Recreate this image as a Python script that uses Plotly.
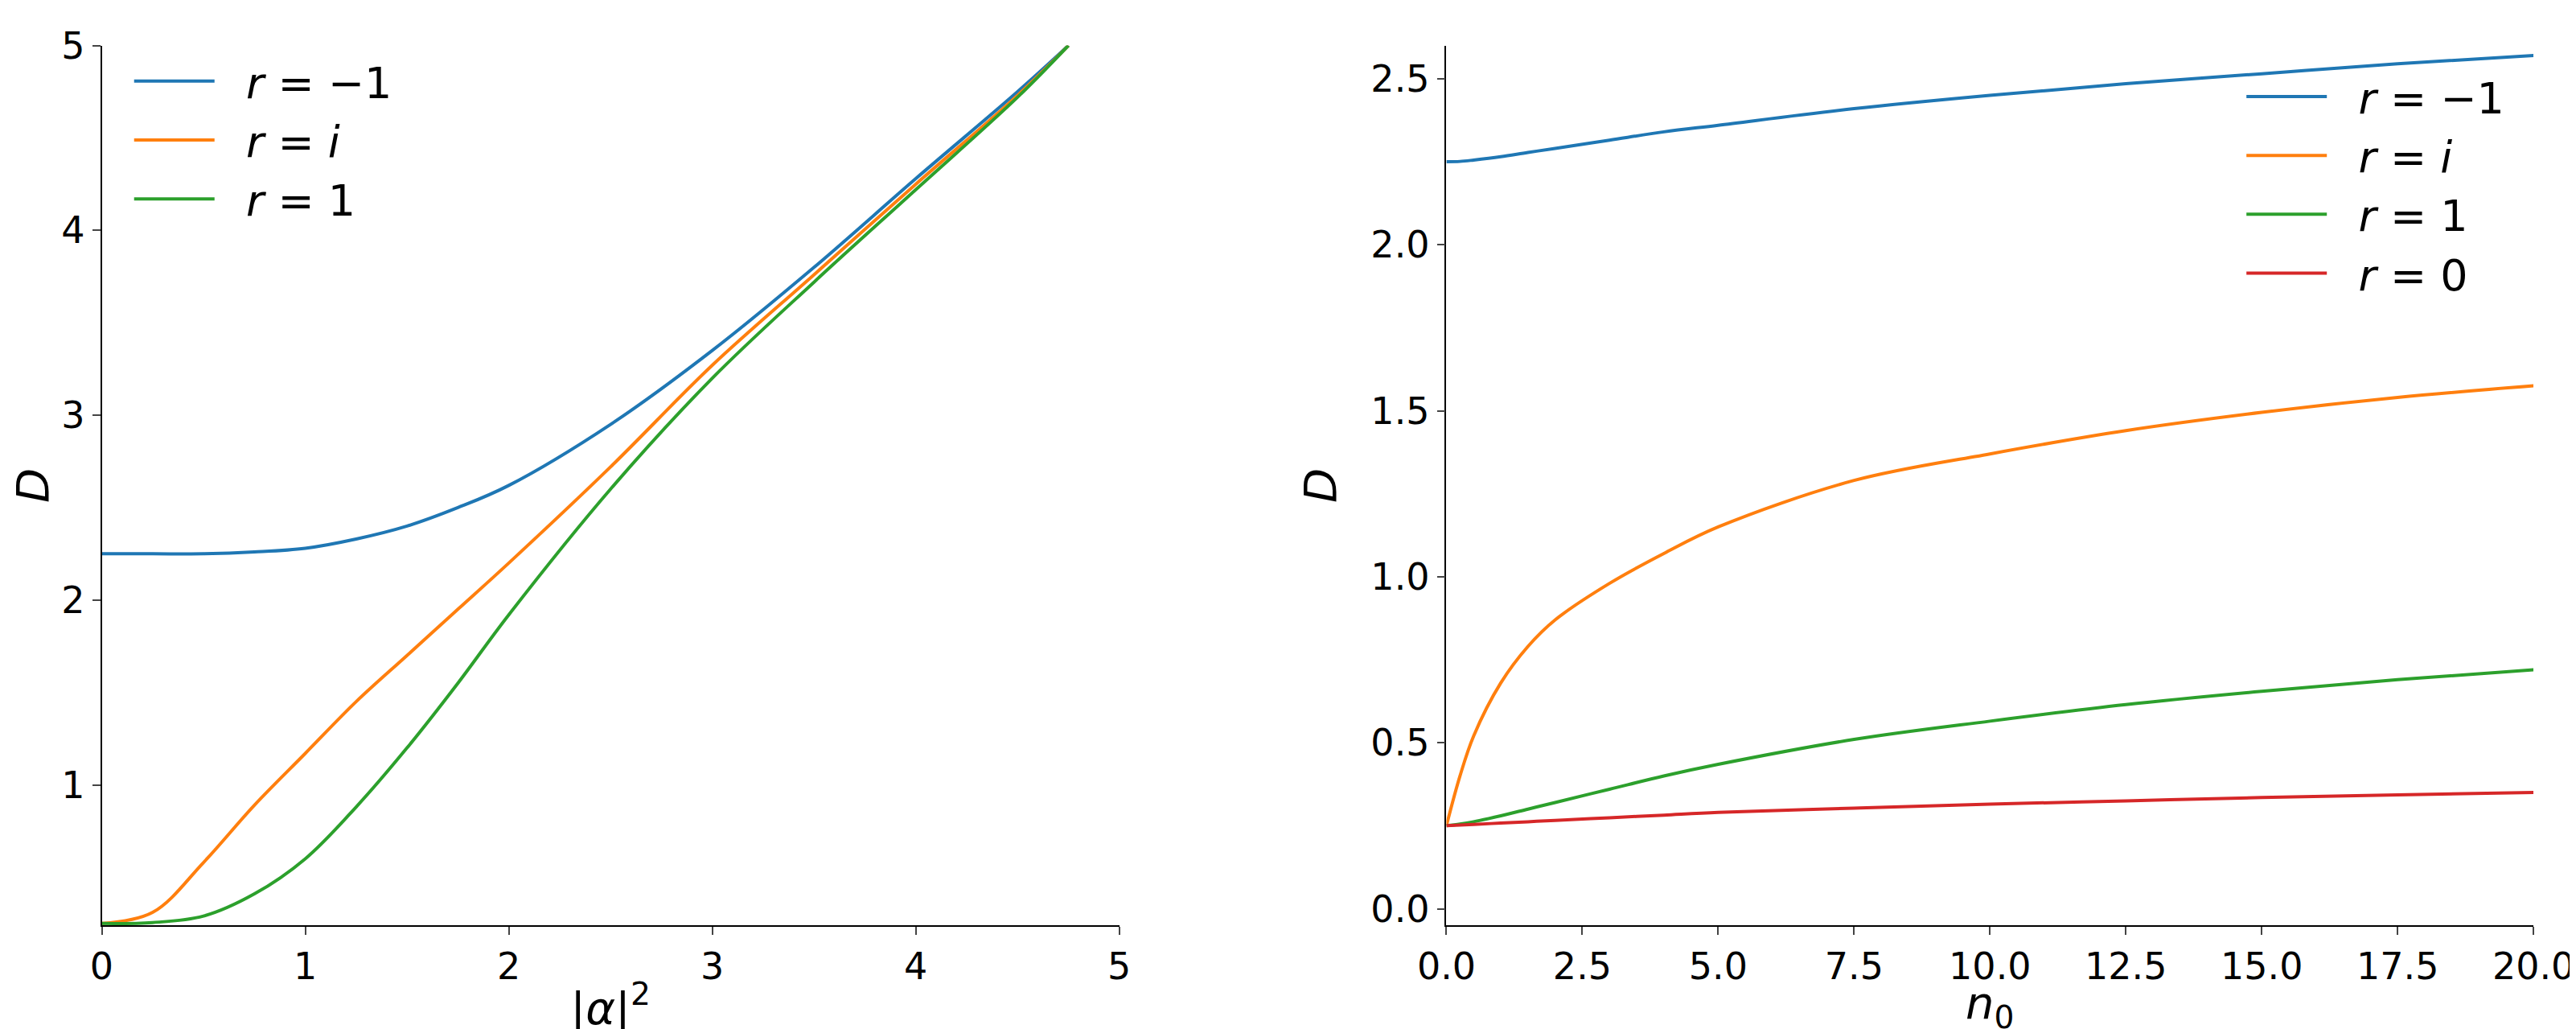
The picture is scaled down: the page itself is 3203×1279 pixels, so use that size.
import plotly.graph_objects as go

# Left panel: D vs |alpha|^2
a_x = [0, 0.25, 0.5, 0.75, 1, 1.25, 1.5, 1.75, 2, 2.5, 3, 3.5, 4, 4.5, 4.75]
a_blue = [2.25, 2.25, 2.25, 2.26, 2.28, 2.33, 2.40, 2.50, 2.62, 2.95, 3.35, 3.80, 4.28, 4.75, 5.0]
a_orange = [0.25, 0.31, 0.58, 0.89, 1.17, 1.45, 1.70, 1.95, 2.20, 2.72, 3.27, 3.76, 4.25, 4.73, 5.0]
a_green = [0.25, 0.255, 0.29, 0.41, 0.60, 0.88, 1.20, 1.55, 1.92, 2.60, 3.20, 3.72, 4.22, 4.72, 5.0]

# Right panel: D vs n0
n_x = [0, 0.25, 0.5, 1, 1.5, 2, 3, 4, 5, 7.5, 10, 12.5, 15, 17.5, 20]
n_blue = [2.25, 2.251, 2.255, 2.265, 2.278, 2.29, 2.315, 2.34, 2.36, 2.41, 2.45, 2.485, 2.515, 2.545, 2.57]
n_orange = [0.25, 0.40, 0.52, 0.68, 0.79, 0.87, 0.98, 1.07, 1.15, 1.29, 1.37, 1.44, 1.495, 1.54, 1.575]
n_green = [0.25, 0.255, 0.262, 0.28, 0.30, 0.32, 0.36, 0.40, 0.435, 0.51, 0.565, 0.615, 0.655, 0.69, 0.72]
n_red = [0.25, 0.252, 0.254, 0.258, 0.262, 0.266, 0.274, 0.282, 0.29, 0.303, 0.315, 0.325, 0.335, 0.343, 0.35]

C = {"b": "#1f77b4", "o": "#ff7f0e", "g": "#2ca02c", "r": "#d62728"}
L1 = "  <i>r</i> = −1"; Li = "  <i>r</i> = <i>i</i>"; L2 = "  <i>r</i> = 1"; L0 = "  <i>r</i> = 0"

fig = go.Figure()
def add(x, y, col, name, ax, leg):
    fig.add_trace(go.Scatter(x=x, y=y, mode="lines", name=name, line=dict(color=col, width=4, shape="spline"),
                             xaxis=ax[0], yaxis=ax[1], legend=leg))
add(a_x, a_blue, C["b"], L1, ("x", "y"), "legend")
add(a_x, a_orange, C["o"], Li, ("x", "y"), "legend")
add(a_x, a_green, C["g"], L2, ("x", "y"), "legend")
add(n_x, n_blue, C["b"], L1, ("x2", "y2"), "legend2")
add(n_x, n_orange, C["o"], Li, ("x2", "y2"), "legend2")
add(n_x, n_green, C["g"], L2, ("x2", "y2"), "legend2")
add(n_x, n_red, C["r"], L0, ("x2", "y2"), "legend2")

ax = dict(showline=True, linecolor="black", linewidth=1.5, ticks="outside", ticklen=10, tickwidth=1.5, automargin=False,
          showgrid=False, zeroline=False, tickfont=dict(size=46, color="black"), title_font=dict(size=56, color="black"))
fig.update_layout(
    width=3203, height=1279, template="plotly_white", font=dict(family="DejaVu Sans", color="black"),
    margin=dict(l=0, r=0, t=0, b=0), plot_bgcolor="white", paper_bgcolor="white",
    xaxis=dict(ax, domain=[0.037, 0.432], range=[0, 5], dtick=1, anchor="y", title=dict(text="|<i>α</i>|<sup>2</sup>", standoff=10)),
    yaxis=dict(ax, domain=[0.107, 0.962], range=[0.24, 5], tickvals=[1, 2, 3, 4, 5], anchor="x", title=dict(text="<i>D</i>", standoff=25)),
    xaxis2=dict(ax, domain=[0.559, 0.981], range=[0, 20], dtick=2.5, tickformat=".1f", anchor="y2", title=dict(text="<i>n</i><sub>0</sub>", standoff=5)),
    yaxis2=dict(ax, domain=[0.107, 0.962], range=[-0.05, 2.6], dtick=0.5, tickformat=".1f", anchor="x2", title=dict(text="<i>D</i>", standoff=25)),
    legend=dict(x=0.048, y=0.96, xanchor="left", yanchor="top", font=dict(size=54), bgcolor="rgba(0,0,0,0)", itemwidth=100, tracegroupgap=0),
    legend2=dict(x=0.868, y=0.945, xanchor="left", yanchor="top", font=dict(size=54), bgcolor="rgba(0,0,0,0)", itemwidth=100),
)
fig.write_html("out.html")
